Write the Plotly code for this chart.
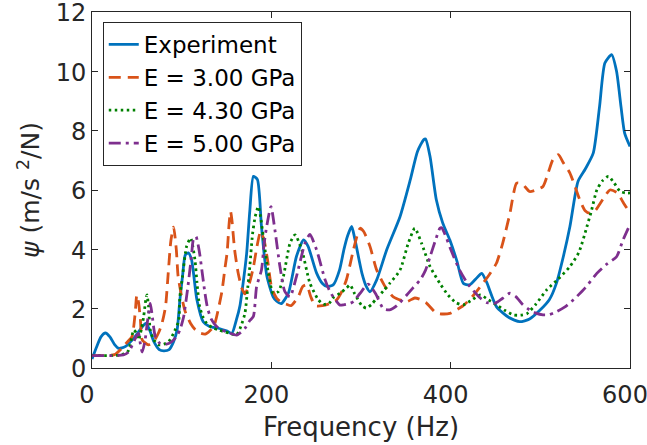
import plotly.graph_objects as go

# ---- data ----
exp_f = [0, 5, 10, 15, 20, 25, 30, 37, 48, 55, 60, 64, 69, 75, 80, 86, 91, 95, 98, 101, 104, 107.5, 111, 117, 124, 131, 141, 150, 156, 161, 165, 169, 172.5, 176, 180, 184.5, 189, 195, 202, 206, 211, 219, 228, 236, 241, 250.5, 257, 262, 269, 276, 281, 285, 289.6, 293, 301, 306, 310, 317.5, 328.6, 343.5, 355, 363, 370, 372, 377, 384, 391, 399, 407, 414, 421, 428, 434.6, 440, 451, 465, 477, 488, 500, 510, 518, 526, 533, 542, 550, 559, 566, 572, 579.5, 585, 590, 594, 600]
exp_v = [0.3, 0.7, 1.05, 1.18, 1.05, 0.8, 0.66, 0.72, 1.06, 1.35, 1.5, 1.3, 0.89, 0.62, 0.58, 0.62, 0.89, 1.3, 2.3, 3.1, 3.81, 3.88, 3.65, 2.3, 1.56, 1.4, 1.34, 1.25, 1.17, 1.62, 2.1, 2.97, 3.87, 5.3, 6.46, 6.35, 4.77, 3.1, 2.4, 2.25, 2.17, 2.52, 3.76, 4.32, 4.1, 3.2, 2.85, 2.75, 2.8, 3.3, 4.0, 4.45, 4.77, 4.37, 3.2, 2.74, 2.57, 2.97, 3.98, 5.1, 6.35, 7.3, 7.7, 7.72, 7.13, 5.67, 4.9, 4.32, 3.6, 2.86, 2.8, 3.0, 3.19, 2.9, 2.07, 1.7, 1.56, 1.65, 1.96, 2.3, 2.86, 3.8, 4.77, 6.29, 6.7, 7.24, 8.8, 10.28, 10.56, 10.0, 8.8, 7.92, 7.47]

e300_f = [0, 25, 33, 40, 44.6, 48, 50, 52, 54, 56, 63, 69, 74, 78, 82, 85, 88, 91, 94, 96, 100, 104, 110, 115, 121, 127, 133, 137, 141, 145, 148, 150.7, 153, 154.5, 156, 159, 163, 167, 170.6, 175, 180, 184, 188, 192, 196, 200.4, 206, 212, 217, 222, 230, 235, 239.4, 244, 249, 257, 265, 273, 279, 284, 291.5, 297, 299, 303, 310, 317.5, 327, 336, 351, 360, 367, 373, 384, 392, 399, 406, 414, 424, 433, 442, 451, 458, 466, 473.6, 480, 488, 495, 503, 509, 514, 520, 526, 533, 544, 550, 555, 561, 570, 577.7, 586, 592, 598, 600]
e300_v = [0.42, 0.45, 0.66, 0.9, 1.06, 1.8, 2.46, 2.2, 1.62, 0.95, 0.78, 0.9, 1.17, 1.5, 2.07, 3.2, 4.3, 4.75, 4.0, 3.1, 2.4, 1.9, 1.5, 1.3, 1.17, 1.15, 1.3, 1.5, 2.0, 2.6, 3.3, 3.9, 4.9, 5.28, 5.0, 4.0, 3.2, 2.7, 2.5, 2.8, 3.4, 4.1, 4.6, 4.3, 3.6, 2.7, 2.35, 2.2, 2.15, 2.1, 2.4, 2.75, 2.8, 2.4, 2.1, 2.1, 2.17, 2.3, 2.6, 3.0, 3.98, 4.6, 4.71, 4.6, 4.1, 3.3, 2.74, 2.4, 2.24, 2.36, 2.3, 2.19, 1.85, 1.82, 1.84, 1.95, 2.1, 2.4, 2.74, 3.1, 3.53, 4.2, 5.2, 6.23, 6.2, 5.95, 6.0, 6.12, 6.6, 7.02, 7.19, 6.9, 6.57, 5.67, 5.3, 5.22, 5.3, 5.7, 6.0, 5.9, 5.6, 5.33, 5.3]

e430_f = [0, 30, 38, 41, 44, 46.5, 49, 52, 55, 57.6, 60, 61.3, 63, 65, 69, 74, 80, 85.5, 91, 96.7, 98, 101, 105.5, 110, 114.8, 117, 120, 124, 128, 134, 141, 148, 154, 161, 166, 170.6, 173, 176, 179, 182, 185.5, 188, 191, 196.7, 202, 208, 213.4, 220.8, 226.4, 234, 243, 252.4, 258, 264, 270, 276.6, 284, 287.8, 293, 301, 306, 312, 317.5, 325, 332, 343.5, 352.8, 360, 367.6, 377, 388, 397, 406, 414, 424, 433, 442, 451, 460, 470, 478, 485, 495, 507, 520, 533, 543, 552, 557, 563, 569, 576, 582, 589, 595, 600]
e430_v = [0.42, 0.43, 0.5, 0.6, 1.0, 1.28, 1.2, 0.95, 1.3, 1.73, 2.3, 2.46, 2.1, 1.28, 0.95, 0.78, 0.8, 0.89, 1.17, 1.6, 2.4, 3.1, 4.1, 4.38, 3.65, 2.9, 2.08, 1.7, 1.5, 1.37, 1.28, 1.22, 1.17, 1.11, 1.4, 1.85, 2.5, 3.42, 4.5, 5.1, 5.44, 5.1, 4.43, 3.2, 2.52, 2.58, 3.08, 4.2, 4.49, 3.98, 2.86, 2.3, 2.15, 2.17, 2.4, 2.52, 2.7, 2.8, 2.5, 2.1, 2.02, 2.15, 2.35, 2.6, 2.85, 3.3, 4.21, 4.71, 4.2, 3.42, 2.85, 2.46, 2.2, 2.13, 2.3, 2.46, 2.3, 2.13, 1.95, 1.79, 1.78, 1.83, 2.15, 2.63, 3.0, 3.42, 3.9, 4.77, 5.3, 6.0, 6.3, 6.46, 6.25, 5.95, 5.9, 5.9]

e500_f = [0, 35, 41, 46, 50, 52, 54, 56, 59, 62, 65, 67, 70.6, 75.8, 82, 89, 94, 98, 102, 107, 111, 113, 116, 118, 120, 126, 129, 133.5, 139, 145, 153, 161.4, 166, 170.6, 176, 180, 183.6, 189, 192, 194.8, 199.6, 204, 209.6, 215, 220.8, 228, 237.5, 243, 250.5, 260, 265, 269, 276.6, 280.7, 288, 291.5, 299, 308, 316, 325, 332, 340, 351, 358, 366, 372, 377, 383, 388, 390, 395, 400, 410, 420, 433, 441, 450, 458, 466, 473, 480, 488, 495, 503, 510, 518, 527, 537, 550, 563, 574, 585, 592, 600]
e500_v = [0.42, 0.44, 0.54, 0.85, 1.1, 1.17, 0.8, 0.54, 0.9, 1.6, 2.18, 1.8, 1.06, 0.83, 0.8, 0.89, 1.05, 1.28, 1.7, 2.75, 3.8, 4.32, 4.43, 4.2, 3.87, 2.52, 2.0, 1.62, 1.4, 1.28, 1.18, 1.11, 1.2, 1.34, 1.6, 1.74, 2.75, 3.3, 4.2, 4.77, 5.44, 4.65, 3.42, 2.58, 2.4, 3.08, 4.2, 4.5, 3.98, 2.97, 2.6, 2.4, 2.12, 2.13, 2.18, 2.24, 2.52, 2.83, 2.52, 2.0, 1.96, 2.1, 2.46, 2.7, 2.97, 3.3, 3.75, 4.3, 4.71, 4.73, 4.4, 4.0, 3.3, 2.8, 2.36, 2.2, 2.19, 2.35, 2.52, 2.4, 2.15, 1.96, 1.85, 1.79, 1.8, 1.9, 2.05, 2.3, 2.7, 3.19, 3.5, 3.75, 4.3, 4.84]

names = ["Experiment", "E = 3.00 GPa", "E = 4.30 GPa", "E = 5.00 GPa"]
x_ticks = [0, 200, 400, 600]
y_ticks = [0, 2, 4, 6, 8, 10, 12]

# ---- styles ----
colors = ["#0072BD", "#D95319", "#008000", "#7E2F8E"]
dashes = ["solid", "12px,7px", "2.5px,3.5px", "12px,5px,3px,5px"]
series = [(exp_f, exp_v), (e300_f, e300_v), (e430_f, e430_v), (e500_f, e500_v)]

fig = go.Figure()
for (fx, fy), nm, c, d in zip(series, names, colors, dashes):
    fig.add_trace(go.Scatter(
        x=fx, y=fy, name=nm, mode="lines",
        line=dict(color=c, width=2.8, dash=d, shape="spline", smoothing=0.6),
    ))

font_family = "DejaVu Sans, Liberation Sans, Arial, sans-serif"
axis_common = dict(
    showgrid=False, zeroline=False, showline=True, linecolor="#262626", linewidth=1,
    mirror="ticks", ticks="inside", ticklen=6, tickwidth=1, tickcolor="#262626",
    tickfont=dict(family=font_family, size=24, color="#262626"),
    ticklabeloverflow="allow", automargin=False,
)

fig.update_layout(
    width=647, height=445,
    margin=dict(l=92, r=17, t=12, b=77),
    paper_bgcolor="white", plot_bgcolor="white",
    font=dict(family=font_family, color="#262626"),
    xaxis=dict(range=[0, 600], tickvals=x_ticks, ticklabelshift=-5, ticklabelstandoff=5, **axis_common,
               title=dict(text="Frequency (Hz)", font=dict(size=26, color="#262626"), standoff=10)),
    yaxis=dict(range=[0, 12], tickvals=y_ticks, ticklabelshift=1, **axis_common,
               title=dict(text="<i>ψ</i> (m/s <sup>2</sup>/N)", font=dict(size=25, color="#262626"), standoff=8)),
    legend=dict(x=0.02, y=0.972, xanchor="left", yanchor="top",
                bgcolor="white", bordercolor="#262626", borderwidth=1,
                font=dict(family=font_family, size=23, color="black"),
                tracegroupgap=0, itemwidth=30),
    showlegend=True,
)

fig.write_html("out.html")
